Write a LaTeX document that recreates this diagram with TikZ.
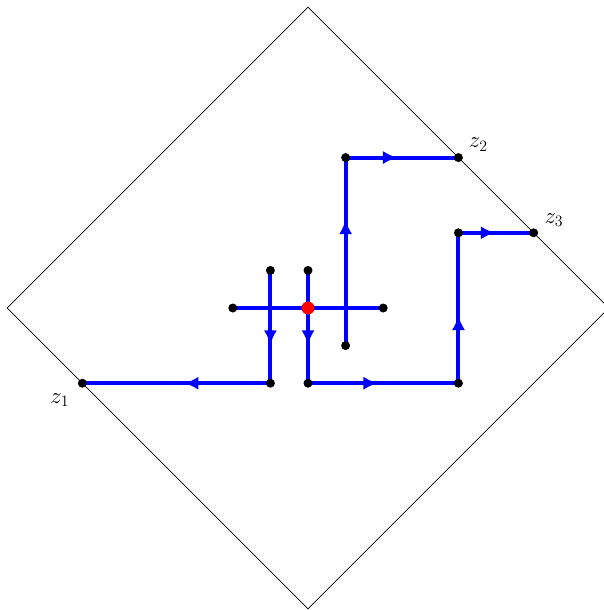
\documentclass[tikz,border=0pt]{standalone}
\usepackage{amsmath,amssymb}
\usepackage{xcolor}
\usepackage{tikz}
\usetikzlibrary{arrows.meta,decorations.markings}

\begin{document}
\begin{tikzpicture}[
				font=\LARGE,
				>=Latex,
				frame/.style={draw=black, line width=0.6pt},
				flow/.style={draw=blue, line width=3pt},
				arrowat/.style={
					postaction={decorate},
					decoration={markings,
						mark=at position #1 with {\arrow[blue]{Latex[length=11pt,width=10pt]}}}
				},
				dot/.style={circle, fill=black, inner sep=0pt, minimum size=6.8pt},
				origin/.style={circle, fill=red, inner sep=0pt, minimum size=9.8pt},
				lbl/.style={inner sep=0pt, black}
				]
				\useasboundingbox (-8.19,-8.03) rectangle (7.87,8.19);
				
				% the square
				\draw[frame] (0,8) -- (8,0) -- (0,-8) -- (-8,0) -- cycle;
				
				% points
				\coordinate (o) at (0,0);
				\coordinate (cl) at (-2,0);
				\coordinate (cr) at (2,0);
				\coordinate (a1) at (-1,1);
				\coordinate (a2) at (-1,-2);
				\coordinate (b1) at (0,1);
				\coordinate (b2) at (0,-2);
				\coordinate (c1) at (1,-1);
				\coordinate (c2) at (1,4);
				\coordinate (d1) at (4,-2);
				\coordinate (d2) at (4,2);
				\coordinate (z1) at (-6,-2);
				\coordinate (z2) at (4,4);
				\coordinate (z3) at (6,2);
				
				% paths
				\draw[flow] (cl) -- (cr);
				\draw[flow, arrowat=0.66] (a1) -- (a2);
				\draw[flow, arrowat=0.66] (b1) -- (b2);
				\draw[flow, arrowat=0.46] (a2) -- (z1);
				\draw[flow, arrowat=0.465] (b2) -- (d1);
				\draw[flow, arrowat=0.45] (d1) -- (d2);
				\draw[flow, arrowat=0.49] (d2) -- (z3);
				\draw[flow, arrowat=0.67] (c1) -- (c2);
				\draw[flow, arrowat=0.46] (c2) -- (z2);
				
				% dots
				\foreach \p in {cl,cr,a1,a2,b1,b2,c1,c2,d1,d2,z1,z2,z3}
					\node[dot] at (\p) {};
				\node[origin] at (o) {};
				
				% labels
				\node[lbl] (l1) at (-6.6,-2.45) {$z_1$};
				\node[lbl] (l2) at (4.53,4.35) {$z_2$};
				\node[lbl] (l3) at (6.54,2.34) {$z_3$};
\end{tikzpicture}
\end{document}
